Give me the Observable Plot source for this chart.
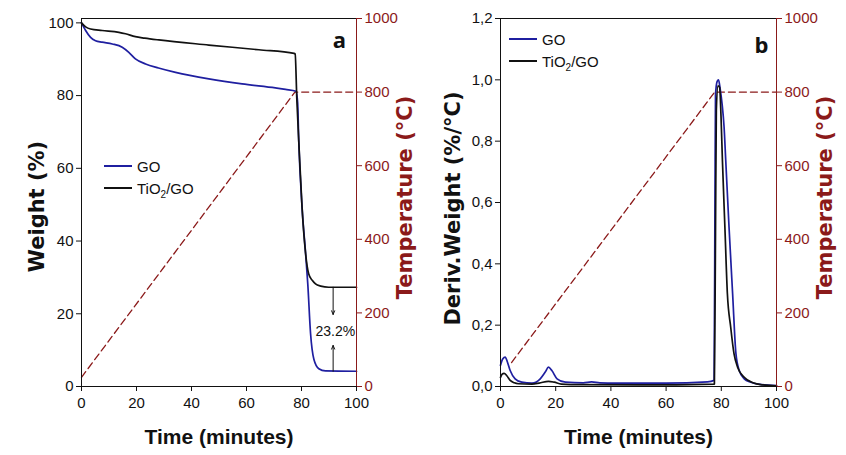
<!DOCTYPE html>
<html>
<head>
<meta charset="utf-8">
<script src="https://cdn.jsdelivr.net/npm/d3@7"></script>
<script src="https://cdn.jsdelivr.net/npm/@observablehq/plot@0.6"></script>
<style>
  body { margin: 0; background: #fff; }
  #wrap { position: relative; width: 846px; height: 455px; display: flex; background: #fff;
          font-family: "Liberation Sans", Arial, sans-serif; }
  .legend { position: absolute; font-size: 15px; color: #111; }
  .legend div { display: flex; align-items: center; height: 22px; }
  .legend .sw { display: inline-block; width: 28px; height: 0; border-top: 2px solid; margin-right: 5px; }
  .legend sub { font-size: 10px; vertical-align: sub; line-height: 0; }
</style>
</head>
<body>
<div id="wrap">
  <div id="chartA"></div>
  <div id="chartB"></div>
  <div class="legend" style="left:104px;top:155px">
    <div><span class="sw" style="border-color:#1f1fa0"></span><span>GO</span></div>
    <div><span class="sw" style="border-color:#111"></span><span>TiO<sub>2</sub>/GO</span></div>
  </div>
  <div class="legend" style="left:509px;top:28px">
    <div><span class="sw" style="border-color:#1f1fa0"></span><span>GO</span></div>
    <div><span class="sw" style="border-color:#111"></span><span>TiO<sub>2</sub>/GO</span></div>
  </div>
</div>
<script>
// ticks
const timeTicks = [0, 20, 40, 60, 80, 100]
const weightTicks = [0, 20, 40, 60, 80, 100]
const derivTicks = [0, 0.2, 0.4, 0.6, 0.8, 1.0, 1.2]
const tempTicks = [0, 200, 400, 600, 800, 1000]

// temperature program (dashed)
const tempTimeA = [0, 77.6, 100]
const tempValueA = [25, 800, 800]
const tempTimeB = [4, 77.6, 100]
const tempValueB = [65, 800, 800]

// (a) TGA weight %
const goTimeA =   [0, 1.5, 3.3, 5.1, 7.5, 11.2, 14.8, 17.2, 19.6, 23.3, 28, 34.2, 46.3, 58.4, 70.5, 74.2, 78.0, 78.6, 79.0, 80.2, 81.5, 82.3, 83.3, 84.5, 86.3, 88.7, 100]
const goWeight =  [100, 97.9, 96.0, 95.1, 94.7, 94.2, 93.3, 91.9, 90.1, 88.7, 87.6, 86.4, 84.6, 83.2, 82.1, 81.7, 81.2, 78, 67.6, 49.3, 36.5, 28, 14.5, 7.5, 4.9, 4.3, 4.2]
const tiTimeA =   [0, 1.5, 3.3, 7.5, 13.6, 16, 19.6, 23, 28.1, 46.3, 64.5, 77.3, 77.7, 78.3, 79.0, 80.2, 81.5, 82.6, 83.9, 85.1, 87, 89.9, 100]
const tiWeight =  [100, 98.9, 98.3, 97.9, 97.4, 97.0, 96.2, 95.8, 95.3, 93.9, 92.6, 91.6, 91.4, 79, 67.6, 49.3, 36.5, 31, 29.2, 28.2, 27.6, 27.3, 27.3]

// (b) DTG
const goTimeB =  [0, 0.8, 1.7, 2.5, 3.5, 5.3, 7.7, 11.4, 13, 14.4, 16.2, 17.4, 18.6, 20.5, 23.5, 30, 33, 36, 41.7, 60, 75, 77.4, 77.7, 77.9, 78.5, 79.0, 79.6, 80.3, 81.0, 81.6, 82.8, 84.1, 85.3, 86.5, 88.3, 90.7, 94, 100]
const goDeriv =  [0.069, 0.09, 0.096, 0.08, 0.052, 0.025, 0.014, 0.011, 0.015, 0.025, 0.047, 0.063, 0.052, 0.025, 0.014, 0.012, 0.015, 0.012, 0.011, 0.011, 0.015, 0.02, 0.6, 0.95, 0.995, 1.0, 0.97, 0.92, 0.847, 0.739, 0.52, 0.303, 0.107, 0.052, 0.025, 0.014, 0.007, 0.003]
const tiTimeB =  [0, 0.6, 1.3, 2.3, 3.5, 5, 6.5, 11.4, 14, 17.4, 19.5, 22, 30, 50, 77.5, 77.9, 78.2, 78.8, 79.4, 79.9, 80.4, 81.3, 82.2, 83.4, 84.6, 85.9, 88.3, 91.5, 95, 100]
const tiDeriv =  [0.03, 0.04, 0.043, 0.035, 0.02, 0.012, 0.009, 0.008, 0.011, 0.017, 0.014, 0.008, 0.006, 0.005, 0.008, 0.5, 0.9, 0.98, 0.975, 0.88, 0.739, 0.52, 0.303, 0.194, 0.107, 0.063, 0.03, 0.012, 0.005, 0.002]

// residue gap annotation in (a)
const gapTime = 91.5
const gapFrom = [27.3, 4.2]
const gapTo = [19.8, 11.3]
const gapLabel = "23.2%"
const gapLabelY = 15

const RED = "#8b1a1a"
const BLUE = "#1f1fa0"
const BLACK = "#111"
const tickFont = '"Liberation Sans", Arial, sans-serif'
const heavy = '"DejaVu Sans", sans-serif'

const zip = (xs, ys, k = 1) => xs.map((x, i) => ({x, y: ys[i] * k}))

function panel({yMax, yTicks, yFormat, series, temp, marginLeft, marginRight, letter, letterDx, letterDy, yLabel, yLabelDx, yLabelDy, tLabelDx, extra = []}) {
  const k = yMax / 1000 // temperature -> left scale units
  return Plot.plot({
    width: 423,
    height: 455,
    marginLeft, marginRight,
    marginTop: 18,
    marginBottom: 69,
    style: {fontFamily: tickFont, fontSize: "15px", background: "#fff", color: BLACK, overflow: "visible"},
    x: {domain: [0, 100]},
    y: {domain: [0, yMax]},
    marks: [
      Plot.axisX(timeTicks, {tickSize: 5, tickPadding: 6, label: null}),
      Plot.axisY(yTicks, {tickSize: 5, tickPadding: 3, label: null, tickFormat: yFormat}),
      Plot.axisY(tempTicks.map(v => v * k), {anchor: "right", tickSize: 5, tickPadding: 3, label: null, color: RED, tickFormat: d => String(Math.round(d / k))}),
      Plot.line(zip(temp[0], temp[1], k), {x: "x", y: "y", stroke: RED, strokeWidth: 1.3, strokeDasharray: "7,4"}),
      ...series.map(s => Plot.line(s.data, {x: "x", y: "y", stroke: s.color, strokeWidth: 1.7, curve: "monotone-x"})),
      Plot.ruleX([0], {stroke: BLACK}),
      Plot.ruleY([0], {stroke: BLACK}),
      Plot.ruleY([yMax], {stroke: BLACK}),
      Plot.ruleX([100], {stroke: RED}),
      ...extra,
      Plot.text([letter], {frameAnchor: "top-right", dx: letterDx, dy: letterDy, textAnchor: "middle", lineAnchor: "middle", fontSize: 22, fontWeight: "bold", fontFamily: '"Open Sans", sans-serif', fill: BLACK}),
      Plot.text(["Time (minutes)"], {frameAnchor: "bottom", dy: 51, textAnchor: "middle", lineAnchor: "middle", fontSize: 21, fontWeight: "bold", fill: BLACK}),
      Plot.text([yLabel], {frameAnchor: "left", dx: yLabelDx, dy: yLabelDy, rotate: -90, textAnchor: "middle", lineAnchor: "middle", fontSize: 21, fontWeight: "bold", fontFamily: heavy, fill: BLACK}),
      Plot.text(["Temperature (°C)"], {frameAnchor: "right", dx: tLabelDx, dy: -5, rotate: -90, textAnchor: "middle", lineAnchor: "middle", fontSize: 21, fontWeight: "bold", fontFamily: heavy, fill: RED})
    ]
  })
}

const yMaxA = 101.2
const chartA = panel({
  yMax: yMaxA,
  yTicks: weightTicks,
  yFormat: d => String(d),
  series: [
    {data: zip(goTimeA, goWeight), color: BLUE},
    {data: zip(tiTimeA, tiWeight), color: BLACK}
  ],
  temp: [tempTimeA, tempValueA],
  marginLeft: 81, marginRight: 67,
  letter: "a", letterDx: -17, letterDy: 22,
  yLabel: "Weight (%)", yLabelDx: -44, yLabelDy: 4,
  tLabelDx: 49,
  extra: [
    Plot.arrow(gapFrom.map((y, i) => ({x: gapTime, y1: y, y2: gapTo[i]})), {x1: "x", x2: "x", y1: "y1", y2: "y2", stroke: BLACK, strokeWidth: 1, headLength: 6, headAngle: 45}),
    Plot.text([gapLabel], {x: gapTime + 0.8, y: gapLabelY, fontSize: 14, fill: BLACK})
  ]
})

const chartB = panel({
  yMax: 1.2,
  yTicks: derivTicks,
  yFormat: d => d.toFixed(1).replace(".", ","),
  series: [
    {data: zip(goTimeB, goDeriv), color: BLUE},
    {data: zip(tiTimeB, tiDeriv), color: BLACK}
  ],
  temp: [tempTimeB, tempValueB],
  marginLeft: 77, marginRight: 70,
  letter: "b", letterDx: -15, letterDy: 27,
  yLabel: "Deriv.Weight (%/°C)", yLabelDx: -47, yLabelDy: 6,
  tLabelDx: 49
})

d3.select("#chartA").append(() => chartA)
d3.select("#chartB").append(() => chartB)
</script>
</body>
</html>
